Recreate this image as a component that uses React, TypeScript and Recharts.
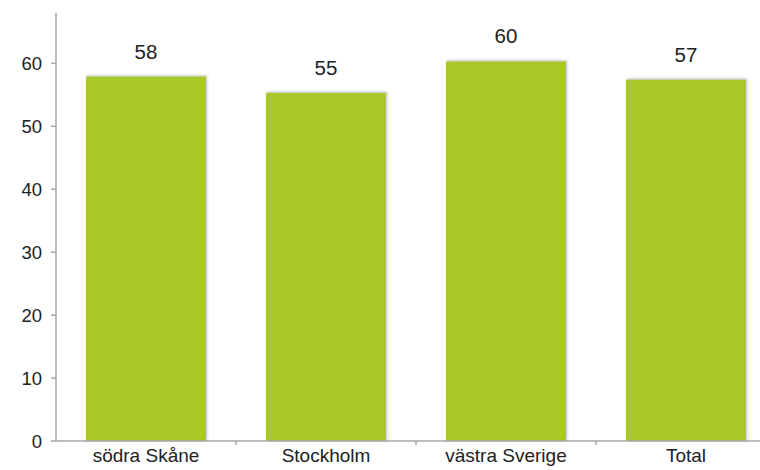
import React from 'react';
import { BarChart, Bar, XAxis, YAxis, LabelList } from 'recharts';

const regions = ['södra Skåne', 'Stockholm', 'västra Sverige', 'Total'];
const shares = [57.9, 55.3, 60.3, 57.4];
const yTicks = [0, 10, 20, 30, 40, 50, 60];

const data = regions.map((region, i) => ({ region, value: shares[i] }));

const FONT = '"Liberation Sans", Arial, sans-serif';
const AXIS = '#a6a6a6';

// category label at the band centre, tick mark at the band's right edge
const CategoryTick = (props: any) => {
  const { x, y, payload } = props;
  const edge = x + (payload.offset || 0);
  return (
    <g>
      <line x1={edge} y1={y - 8} x2={edge} y2={y - 4} stroke={AXIS} strokeWidth={1.5} />
      <text x={x} y={y - 3} dy="0.85em" textAnchor="middle" fill="#222" fontSize={19} fontFamily={FONT}>
        {payload.value}
      </text>
    </g>
  );
};

const ShadowBar = (props: any) => {
  const { x, y, width, height, fill } = props;
  return (
    <rect
      x={x}
      y={y}
      width={width}
      height={height}
      fill={fill}
      style={{ filter: 'drop-shadow(1.5px -0.5px 1.5px rgba(0,0,0,0.25))' }}
    />
  );
};

const App = () => {
  return (
    <div style={{ position: 'absolute', left: 0, top: 0, width: 760, height: 470, overflow: 'hidden', background: '#fff' }}>
      <BarChart width={776} height={470} data={data} margin={{ top: 13, right: 0, left: 0, bottom: 0 }}>
        <XAxis
          dataKey="region"
          height={29}
          axisLine={{ stroke: AXIS, strokeWidth: 1.5 }}
          tickLine={false}
          tick={<CategoryTick />}
          interval={0}
        />
        <YAxis
          width={56}
          domain={[0, 68]}
          ticks={yTicks}
          interval={0}
          axisLine={{ stroke: AXIS, strokeWidth: 1.5 }}
          tickLine={{ stroke: AXIS, strokeWidth: 1.5 }}
          tickSize={5}
          tickMargin={9}
          tick={{ fill: '#222', fontSize: 18.5, fontFamily: FONT }}
        />
        <Bar dataKey="value" fill="#a8c929" barSize={120} isAnimationActive={false} shape={<ShadowBar />}>
          <LabelList
            dataKey="value"
            position="top"
            offset={18}
            formatter={(v: any) => Math.round(Number(v))}
            fill="#222"
            fontSize={20.5}
            fontFamily={FONT}
          />
        </Bar>
      </BarChart>
    </div>
  );
};

export default App;
